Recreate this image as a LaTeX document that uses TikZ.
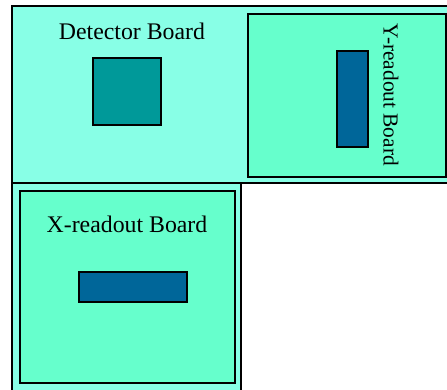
\documentclass[tikz,border=0pt]{standalone}
\usepackage{fontspec}
\setmainfont{Liberation Serif}
\definecolor{outerfill}{HTML}{88FFE6}
\definecolor{innerfill}{HTML}{66FFCC}
\definecolor{chipteal}{HTML}{009999}
\definecolor{chipblue}{HTML}{006699}
\begin{document}
\begin{tikzpicture}[x=1pt,y=-1pt,
  board/.style={draw=black,line width=1.6pt,inner sep=0pt,outer sep=0pt},
  chip/.style={draw=black,line width=1.6pt,inner sep=0pt,outer sep=0pt},
  lbl/.style={inner sep=0pt,anchor=base,font=\fontsize{23.8}{26}\selectfont},
  lbls/.style={inner sep=0pt,anchor=base,font=\fontsize{21.4}{24}\selectfont}]
\useasboundingbox (0,0) rectangle (447,389);
\begin{scope}
\clip (0,0) rectangle (447,389);
% detector board
\node[board,fill=outerfill,minimum width=437pt,minimum height=177pt] (det) at (230.5,94.5) {};
% x-readout outer
\node[board,fill=outerfill,minimum width=229pt,minimum height=210pt] (xout) at (126.5,288) {};
\node[board,fill=innerfill,minimum width=215pt,minimum height=192pt] (xin) at (127.5,287) {};
% y-readout
\node[board,fill=innerfill,minimum width=198pt,minimum height=163pt] (yin) at (347,95.5) {};
\end{scope}
% chips
\node[chip,fill=chipteal,minimum width=68pt,minimum height=67pt] (detchip) at (127,91.5) {};
\node[chip,fill=chipblue,minimum width=31pt,minimum height=96pt] (ychip) at (352.5,99) {};
\node[chip,fill=chipblue,minimum width=108pt,minimum height=30pt] (xchip) at (133,287) {};
% labels
\node[lbl] (detlbl) at (132,39.3) {Detector Board};
\node[lbl] (xlbl) at (127,232) {X-readout Board};
\node[lbls,rotate=-90] (ylbl) at (383.5,95) {Y-readout Board};
\end{tikzpicture}
\end{document}
